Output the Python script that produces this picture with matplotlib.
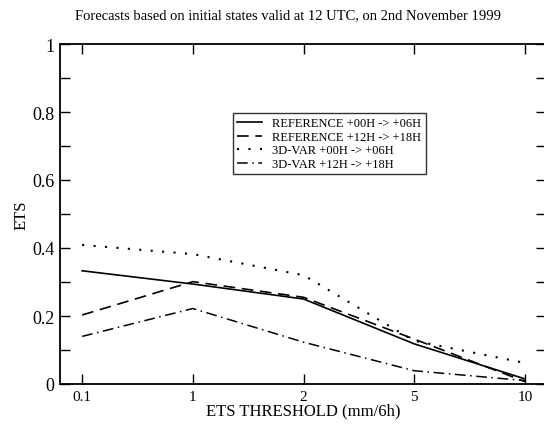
import matplotlib
matplotlib.use('Agg')
import matplotlib.pyplot as plt

plt.rcParams['font.family'] = ['Liberation Serif', 'DejaVu Serif']

thresholds = ['0.1', '1', '2', '5', '10']
ref_00_06 = [0.333, 0.294, 0.250, 0.118, 0.015]
ref_12_18 = [0.203, 0.301, 0.255, 0.132, 0.007]
var_00_06 = [0.409, 0.382, 0.320, 0.127, 0.062]
var_12_18 = [0.140, 0.222, 0.123, 0.039, 0.010]
labels = ['REFERENCE +00H -> +06H', 'REFERENCE +12H -> +18H',
          '3D-VAR +00H -> +06H', '3D-VAR +12H -> +18H']
yticks = [0, 0.2, 0.4, 0.6, 0.8, 1]
yticklabels = ['0', '0.2', '0.4', '0.6', '0.8', '1']
yminor = [0.1, 0.3, 0.5, 0.7, 0.9]

x = range(len(thresholds))

fig = plt.figure(figsize=(5.44, 4.31), dpi=100)
ax = fig.add_axes([60/544, 46/431, 486/544, 340/431])

ax.plot(x, ref_00_06, color='black', lw=1.2, ls='-', label=labels[0])
ax.plot(x, ref_12_18, color='black', lw=1.2, ls=(0, (7, 4)), label=labels[1])
ax.plot(x, var_00_06, color='black', lw=1.5, ls=(0, (1, 4.5)), label=labels[2])
ax.plot(x, var_12_18, color='black', lw=1.1, ls=(0, (7, 3, 1, 3)), label=labels[3])

ax.set_xlim(-0.2, 4.19)
ax.set_ylim(0, 1)
ax.set_xticks(list(x))
ax.set_xticklabels(thresholds)
ax.set_yticks(yticks)
ax.set_yticklabels(yticklabels)
ax.set_yticks(yminor, minor=True)
ax.tick_params(axis='both', which='both', direction='in', top=True, right=True)
ax.tick_params(axis='both', which='major', length=7, width=1)
ax.tick_params(axis='y', which='minor', length=7, width=1)
ax.tick_params(axis='y', labelsize=13, pad=4)
ax.tick_params(axis='x', labelsize=11, pad=4)
for s in ax.spines.values():
    s.set_linewidth(1.3)

ax.set_xlabel('ETS THRESHOLD (mm/6h)', fontsize=12, labelpad=0)
ax.set_ylabel('ETS', fontsize=12)
ax.yaxis.set_label_coords(-30/486, 0.5)
fig.text(288/544, 1 - 16/431, 'Forecasts based on initial states valid at 12 UTC, on 2nd November 1999',
         ha='center', va='center', fontsize=10.5)

leg = ax.legend(loc='upper left', bbox_to_anchor=((233 - 60)/486, (386 - 115)/340),
                fontsize=9, frameon=True, fancybox=False, edgecolor='black',
                handlelength=2.0, handletextpad=0.8, borderpad=0.35,
                labelspacing=0.12, borderaxespad=0)
leg.get_frame().set_linewidth(1.0)

fig.savefig('out.png', dpi=100)
